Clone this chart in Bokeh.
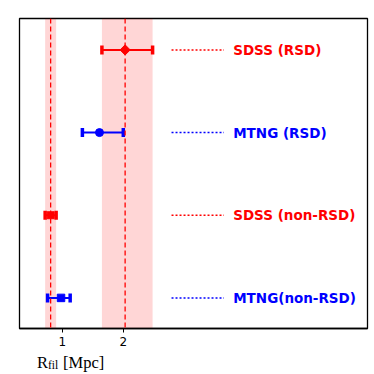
import math
from bokeh.plotting import figure
from bokeh.layouts import column
from bokeh.models import ColumnDataSource, FixedTicker, Span, BoxAnnotation, Label, Range1d
from bokeh.core.properties import value
from bokeh.embed import file_html
from bokeh.resources import INLINE

# ---- data ----
names = ["SDSS (RSD)", "MTNG (RSD)", "SDSS (non-RSD)", "MTNG(non-RSD)"]
ypos = [3, 2, 1, 0]
r_fil = [2.03, 1.61, 0.81, 0.98]
err_lo = [0.38, 0.28, 0.09, 0.22]
err_hi = [0.45, 0.39, 0.09, 0.15]
colors = ["red", "blue", "red", "blue"]
markers = ["square", "circle", "square", "square"]
angles = [math.pi / 4, 0, 0, 0]
msizes = [7.2, 8, 7, 7.5]
xticks = [1, 2]
sdss_idx = [0, 2]

lo = [r - e for r, e in zip(r_fil, err_lo)]
hi = [r + e for r, e in zip(r_fil, err_hi)]

src = ColumnDataSource(dict(name=names, y=ypos, x=r_fil, lo=lo, hi=hi,
                            color=colors, marker=markers, angle=angles, size=msizes,
                            lx0=[2.79] * 4, lx1=[3.65] * 4, tx=[3.80] * 4))

p = figure(width=374, height=350, output_backend="svg", toolbar_location=None,
           x_range=Range1d(0.3, 6.0), y_range=Range1d(-0.37, 3.38),
           min_border_left=19, min_border_right=7, min_border_top=18, min_border_bottom=22)
p.yaxis.visible = False
p.xgrid.visible = False
p.ygrid.visible = False
p.background_fill_color = "white"
p.border_fill_color = "white"
p.outline_line_color = "black"
p.outline_line_width = 1.3
p.outline_line_alpha = 1

xa = p.xaxis[0]
xa.ticker = FixedTicker(ticks=xticks)
xa.axis_line_color = "black"
xa.axis_line_width = 1.3
xa.major_tick_out = 4
xa.major_tick_in = 0
xa.major_tick_line_width = 1
xa.minor_tick_line_color = None
xa.major_label_text_font = "DejaVu Sans"
xa.major_label_text_font_size = "12px"
xa.major_label_text_color = "black"
xa.major_label_standoff = 4

# bands and vertical lines for SDSS
for i in sdss_idx:
    p.add_layout(BoxAnnotation(left=lo[i], right=hi[i], fill_color="red",
                               fill_alpha=0.16, line_alpha=0, level="underlay"))
    p.add_layout(Span(location=r_fil[i], dimension="height", line_color="red",
                      line_width=1.3, line_dash="5 3"))

# error bars
p.segment(x0="lo", x1="hi", y0="y", y1="y", line_color="color", line_width=2, source=src)
p.rect(x="lo", y="y", width=3.5, height=9, width_units="screen", height_units="screen",
       fill_color="color", line_color=None, source=src)
p.rect(x="hi", y="y", width=3.5, height=9, width_units="screen", height_units="screen",
       fill_color="color", line_color=None, source=src)
p.scatter(x="x", y="y", marker="marker", angle="angle", size="size",
          fill_color="color", line_color="color", source=src)

# legend-like dotted lines and labels
p.segment(x0="lx0", x1="lx1", y0="y", y1="y", line_color="color", line_width=1.5,
          line_dash="2 2", source=src)
p.text(x="tx", y="y", text="name", text_color="color", text_font=value("DejaVu Sans"),
       text_font_style="bold", text_font_size="13.5px", text_baseline="middle",
       text_align="left", source=src)

# axis title strip: R_fil [Mpc]
p2 = figure(width=374, height=24, output_backend="svg", toolbar_location=None,
            x_range=p.x_range, y_range=Range1d(0, 1),
            min_border_left=19, min_border_right=7, min_border_top=0, min_border_bottom=0)
p2.xaxis.visible = False
p2.yaxis.visible = False
p2.xgrid.visible = False
p2.ygrid.visible = False
p2.outline_line_color = None
p2.background_fill_color = "white"
p2.border_fill_color = "white"
p2.add_layout(Label(x=17.5, y=12.3, x_units="screen", y_units="screen", text="R",
                    text_font="Liberation Serif", text_font_size="16.5px",
                    text_baseline="alphabetic", text_color="black"))
p2.add_layout(Label(x=28.5, y=9.8, x_units="screen", y_units="screen", text="fil",
                    text_font="Liberation Serif", text_font_size="11.5px",
                    text_baseline="alphabetic", text_color="black"))
p2.add_layout(Label(x=43.5, y=12.3, x_units="screen", y_units="screen", text="[Mpc]",
                    text_font="Liberation Serif", text_font_size="16.5px",
                    text_baseline="alphabetic", text_color="black"))

layout = column(p, p2, spacing=0)
open("out.html", "w").write(file_html(layout, INLINE))
